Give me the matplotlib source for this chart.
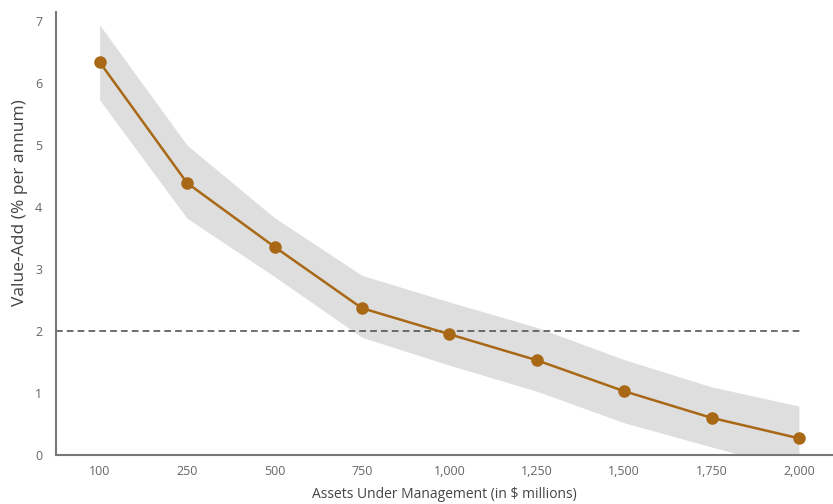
import matplotlib
matplotlib.use("Agg")
import matplotlib.pyplot as plt
import numpy as np

categories = ["100", "250", "500", "750", "1,000", "1,250", "1,500", "1,750", "2,000"]
value_add = [6.34, 4.39, 3.36, 2.37, 1.95, 1.53, 1.03, 0.60, 0.27]
band_upper = [6.94, 5.00, 3.83, 2.90, 2.47, 2.06, 1.54, 1.10, 0.79]
band_lower = [5.73, 3.82, 2.88, 1.90, 1.45, 1.03, 0.52, 0.13, -0.25]
hurdle = 2.0

plt.rcParams['font.family'] = ['Open Sans', 'DejaVu Sans']

fig = plt.figure(figsize=(8.33, 5.04), dpi=100)
ax = fig.add_axes([56/833, 49/504, (833-56)/833, (455-12)/504])

x = np.arange(len(categories))
ax.fill_between(x, band_lower, band_upper, color="#DEDEDE", linewidth=0, zorder=1)
ax.hlines(hurdle, -0.5, 8.05, colors="#555555", linestyles=(0, (4, 2.5)), linewidth=1.2, zorder=2)
ax.plot(x, value_add, color="#A86816", linewidth=1.8, marker="o", markersize=8, zorder=3)

ax.set_xlim(-0.5, 8.39)
ax.set_ylim(0, 7.15)
ax.set_xticks(x)
ax.set_xticklabels(categories)
ax.set_yticks(range(0, 8))

for s in ["top", "right"]:
    ax.spines[s].set_visible(False)
for s in ["left", "bottom"]:
    ax.spines[s].set_color("#777777")
    ax.spines[s].set_linewidth(1.5)

ax.tick_params(axis="both", length=0, labelsize=9, labelcolor="#666666")
ax.tick_params(axis="x", pad=7)
ax.tick_params(axis="y", pad=10)

ax.set_xlabel("Assets Under Management (in $ millions)", fontsize=10, color="#444444", labelpad=7)
ax.set_ylabel("Value-Add (% per annum)", fontsize=12.5, color="#444444")
ax.yaxis.set_label_coords(-0.036, 0.569)

fig.savefig("out.png", dpi=100)
